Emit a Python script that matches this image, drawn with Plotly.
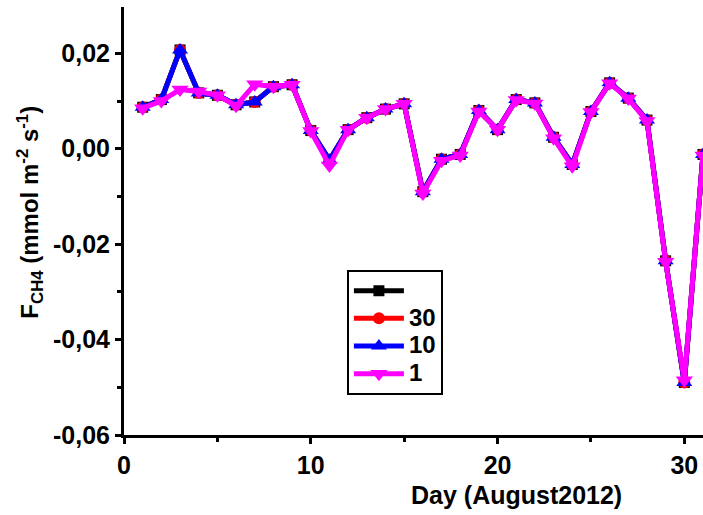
import plotly.graph_objects as go

# Day of August 2012 and CH4 flux for each averaging setting
day = list(range(1, 32))

flux_blank = [0.0087, 0.0103, 0.0207, 0.0117, 0.0112, 0.0092, 0.0098, 0.0130, 0.0134, 0.0038,
              -0.0024, 0.0040, 0.0065, 0.0083, 0.0094, -0.0090, -0.0022, -0.0012, 0.0080, 0.0040,
              0.0103, 0.0096, 0.0024, -0.0033, 0.0078, 0.0138, 0.0106, 0.0060, -0.0235, -0.0490,
              -0.0012]
flux_30 = [0.0087, 0.0103, 0.0207, 0.0117, 0.0112, 0.0092, 0.0098, 0.0130, 0.0134, 0.0038,
           -0.0024, 0.0040, 0.0065, 0.0083, 0.0094, -0.0090, -0.0022, -0.0012, 0.0080, 0.0040,
           0.0103, 0.0096, 0.0024, -0.0033, 0.0078, 0.0138, 0.0106, 0.0060, -0.0235, -0.0490,
           -0.0012]
flux_10 = [0.0087, 0.0103, 0.0207, 0.0117, 0.0112, 0.0092, 0.0098, 0.0130, 0.0134, 0.0038,
           -0.0024, 0.0040, 0.0065, 0.0083, 0.0094, -0.0090, -0.0022, -0.0012, 0.0080, 0.0040,
           0.0103, 0.0096, 0.0024, -0.0033, 0.0078, 0.0138, 0.0106, 0.0060, -0.0235, -0.0490,
           -0.0012]
flux_1 = [0.0085, 0.0100, 0.0124, 0.0120, 0.0112, 0.0090, 0.0135, 0.0130, 0.0134, 0.0037,
          -0.0035, 0.0040, 0.0065, 0.0083, 0.0094, -0.0094, -0.0025, -0.0014, 0.0078, 0.0040,
          0.0102, 0.0095, 0.0022, -0.0037, 0.0077, 0.0137, 0.0105, 0.0058, -0.0237, -0.0485,
          -0.0014]

series_names = ["", "30", "10", "1"]
series_values = [flux_blank, flux_30, flux_10, flux_1]
series_colors = ["#000000", "#ff0000", "#0000ff", "#ff00ff"]
series_symbols = ["square", "circle", "triangle-up", "triangle-down"]
series_sizes = [11, 12, 14, 15]

x_ticks = [0, 10, 20, 30]
y_ticks = [-0.06, -0.04, -0.02, 0.00, 0.02]
y_tick_labels = ["-0,06", "-0,04", "-0,02", "0,00", "0,02"]

FONT = "Liberation Sans, Arial, sans-serif"

fig = go.Figure()
for name, vals, color, sym, size in zip(series_names, series_values, series_colors,
                                         series_symbols, series_sizes):
    fig.add_trace(go.Scatter(
        x=day, y=vals, mode="lines+markers",
        # legend rows stay compact while the label itself is drawn larger
        name=f'<span style="font-size:24px">{name}</span>' if name else " ",
        line=dict(color=color, width=5),
        marker=dict(symbol=sym, size=size, color=color, line=dict(width=0)),
    ))

fig.update_layout(
    width=703, height=515,
    margin=dict(l=124, r=0, t=7, b=80),
    paper_bgcolor="white", plot_bgcolor="white",
    separators=",.",
    font=dict(family=FONT, size=25, color="black", weight="bold"),
    showlegend=True,
    legend=dict(
        x=0.385, y=0.386, xanchor="left", yanchor="top",
        bordercolor="black", borderwidth=2, bgcolor="white",
        font=dict(family=FONT, size=19, color="black", weight="bold"),
        itemwidth=50, tracegroupgap=0,
    ),
    xaxis=dict(
        range=[0, 31.0], tickvals=x_ticks, showgrid=False, zeroline=False,
        showline=True, linecolor="black", linewidth=3,
        ticks="outside", ticklen=6, tickwidth=3, tickcolor="black",
        minor=dict(dtick=5, ticks="outside", ticklen=4, tickwidth=3, tickcolor="black"),
    ),
    yaxis=dict(
        range=[-0.06, 0.0297], tickvals=y_ticks, ticktext=y_tick_labels,
        showgrid=False, zeroline=False,
        showline=True, linecolor="black", linewidth=3,
        ticks="outside", ticklen=6, tickwidth=3, tickcolor="black",
        minor=dict(dtick=0.01, ticks="outside", ticklen=4, tickwidth=3, tickcolor="black"),
    ),
    annotations=[
        dict(text="Day (August2012)", xref="paper", yref="paper",
             x=(516 - 124) / 579, y=-0.14, xanchor="center", yanchor="middle",
             showarrow=False, font=dict(family=FONT, size=25, weight="bold")),
        dict(text="F<sub>CH4</sub> (mmol m<sup>-2</sup> s<sup>-1</sup>)",
             xref="paper", yref="paper", x=-0.162, y=0.52, textangle=-90,
             xanchor="center", yanchor="middle", showarrow=False,
             font=dict(family=FONT, size=24, weight="bold")),
    ],
)

fig.write_html("out.html")
